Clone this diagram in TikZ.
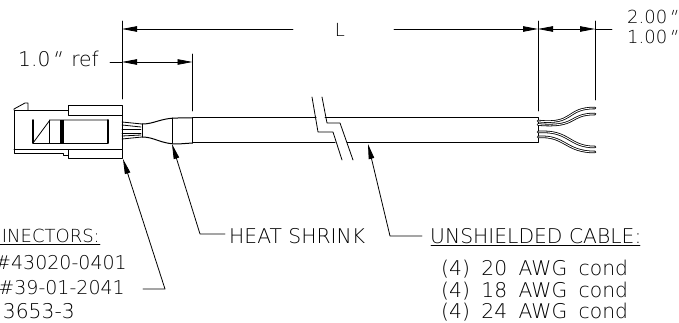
\documentclass[tikz,border=0pt]{standalone}
\usepackage{fontspec}
\newfontfamily\cadfont{DejaVu Sans ExtraLight}
\newfontfamily\cadslant[FakeSlant=0.3]{DejaVu Sans ExtraLight}
\usetikzlibrary{arrows.meta}
\newcommand{\inchmark}{{\cadslant"}}
\newcommand{\cadgap}{\hspace{5pt}\space}
\tikzset{
  cadtext/.style={inner sep=0pt, font=\cadfont\fontsize{20.3}{20.3}\selectfont},
  parttext/.style={inner sep=0pt, font=\cadfont\fontsize{19}{19}\selectfont},
  dimtext/.style={inner sep=0pt, font=\cadfont\fontsize{18}{18}\selectfont},
  dimline/.style={line width=0.8pt},
  leader/.style={line width=0.8pt},
  cableline/.style={line width=1pt},
  wire/.style={line width=0.8pt, double=white, double distance=0.9pt},
  thickline/.style={line width=1.8pt}
}
\begin{document}
\begin{tikzpicture}[x=1pt, y=-1pt, line join=round, line cap=round, >={Stealth[length=15pt,width=5.5pt,inset=0pt]}]
	\useasboundingbox (0,0) rectangle (679,323);
	\def\cabtop{118} \def\cabbot{143} % cable edges
	\def\xa{122} \def\xb{192.5} \def\xc{538} \def\xd{595}
	% extension lines
	\draw[dimline] (\xa,21)--(\xa,99);
	\draw[dimline] (\xb,54)--(\xb,111);
	\draw[dimline] (\xc,21)--(\xc,111);
	\draw[dimline] (\xd,21)--(\xd,100);
	% dimensions
	\node[cadtext, anchor=base west] (refA) at (18,67) {1.0\inchmark\cadgap ref};
	\node[dimtext, anchor=base] (lenL) at (340,37) {L};
	\node[dimtext, anchor=base west] (twoin) at (627,24) {2.00\inchmark};
	\node[dimtext, anchor=base west] (onein) at (627,44) {1.00\inchmark};
	\coordinate (lenLa) at (293,29);
	\coordinate (lenLb) at (394,29);
	\draw[dimline,->] (lenLa)--(\xa,29);
	\draw[dimline,->] (lenLb)--(\xc,29);
	\draw[dimline,<->] (\xc,29)--(\xd,29);
	\draw[dimline] (\xd,29)--(612,29);
	\draw[dimline,<->] (\xa,62)--(\xb,62);
	\draw[dimline] (110,62)--(\xa,62);
	% connector
	\draw[dimline] (68,110)--(14,110)--(14,153)--(63,153)--(63,155)--(68,155);
	\draw[dimline] (14,110)--(14,109)--(25,103)--(28,103)--(28,110);
	\draw[dimline] (14,149)--(68,149);
	\draw[dimline] (68,105) rectangle (122,115);
	\draw[dimline] (68,149) rectangle (122,158);
	\draw[dimline] (\xa,115)--(\xa,149);
	\draw[dimline] (33,143)--(50,120)--(108,120);
	\draw[dimline] (33,143)--(108,143);
	\draw[dimline] (49,120)--(49,143);
	\draw[thickline] (33,120)--(33,143);
	\draw[thickline] (108,120)--(108,143);
	\draw[line width=4pt,line cap=butt] (62,120)--(62,143);
	% wires to heat shrink
	\draw[dimline] (\xa,122)--(142,124);
	\draw[dimline] (\xa,125)--(141,127);
	\draw[dimline] (\xa,129)--(141,129);
	\draw[dimline] (\xa,133)--(141,133);
	\draw[dimline] (\xa,136)--(141,135);
	\draw[dimline] (\xa,139)--(142,137);
	\draw[dimline] (142,124)--(142,137);
	% heat shrink
	\draw[cableline] (142,124) .. controls (155,124) and (160,118) .. (178,118)--(\xb,118);
	\draw[cableline] (142,137) .. controls (155,137) and (160,144) .. (178,144)--(\xb,143);
	\draw[dimline] (172,118)--(172,143);
	% cable with break
	\draw[cableline] (\xb,\cabtop)--(316,\cabtop);
	\draw[cableline] (325,\cabtop)--(\xc,\cabtop)--(\xc,\cabbot)--(347,\cabbot);
	\draw[cableline] (\xb,\cabbot)--(335,\cabbot);
	\draw[dimline] (\xb,\cabtop)--(\xb,\cabbot);
	\draw[dimline] (312,97)--(318,132)--(333,132)--(342,160);
	\draw[dimline] (322,97)--(327,123)--(340,123)--(353,160);
	% free wires
	\draw[wire] (\xc,121) .. controls (575,125) and (565,108) .. (\xd,108);
	\draw[wire] (\xc,124.5) .. controls (578,128) and (568,114) .. (\xd,114);
	\draw[wire] (\xc,132) .. controls (570,130) and (568,147) .. (\xd,147);
	\draw[wire] (\xc,137) .. controls (565,135) and (565,152) .. (\xd,152);
	% labels
	\node[dimtext, anchor=base east] (conhead) at (100,242.5) {INECTORS:};
	\node[parttext, anchor=base east] (conA) at (127,269) {\#43020-0401};
	\node[parttext, anchor=base east] (conB) at (125,294) {\#39-01-2041};
	\node[cadtext, anchor=base east] (conC) at (75,318) {3653-3};
	\node[cadtext, anchor=base west] (shrink) at (229,243) {HEAT SHRINK};
	\node[cadtext, anchor=base west] (cabhead) at (430,243) {UNSHIELDED CABLE:};
	\node[cadtext, anchor=base west] (cabA) at (441,275) {(4)\cadgap 20\cadgap AWG\cadgap cond};
	\node[cadtext, anchor=base west] (cabB) at (441,297) {(4)\cadgap 18\cadgap AWG\cadgap cond};
	\node[cadtext, anchor=base west] (cabC) at (441,318) {(4)\cadgap 24\cadgap AWG\cadgap cond};
	\draw[dimline] (0,244.5)--(100,244.5);
	\draw[dimline] (431,245)--(640,245);
	% leaders
	\coordinate (contip) at (123,159);
	\coordinate (shrinktip) at (172,144);
	\coordinate (cabtip) at (368,144);
	\coordinate (shrinkend) at (225,234);
	\coordinate (cabend) at (422,236);
	\draw[leader,->] (143,289)--(165,289)--(contip);
	\draw[leader,->] (shrinkend)--(200,234)--(shrinktip);
	\draw[leader,->] (cabend)--(390,236)--(cabtip);
\end{tikzpicture}
\end{document}
